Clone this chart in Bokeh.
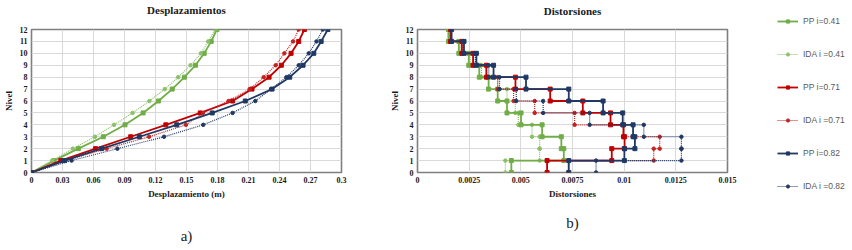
from bokeh.plotting import figure
from bokeh.layouts import row
from bokeh.models import Range1d, FixedTicker, Legend, LegendItem, LinearAxis
from bokeh.embed import file_html
from bokeh.resources import INLINE

# ---------------- data ----------------
levels = [0, 1, 2, 3, 4, 5, 6, 7, 8, 9, 10, 11, 12]

# Displacements (m) per level
disp_pp_041 = [0, 0.0217, 0.0453, 0.0695, 0.0905, 0.1080, 0.1228, 0.1362, 0.1480, 0.1587, 0.1671, 0.1739, 0.1794]
disp_ida_041 = [0, 0.0200, 0.0400, 0.0614, 0.0799, 0.0978, 0.1141, 0.1290, 0.1420, 0.1539, 0.1639, 0.1710, 0.1778]
disp_pp_071 = [0, 0.0284, 0.0620, 0.0960, 0.1300, 0.1633, 0.1946, 0.2134, 0.2299, 0.2418, 0.2512, 0.2586, 0.2641]
disp_ida_071 = [0, 0.0330, 0.0727, 0.1138, 0.1494, 0.1660, 0.1907, 0.2111, 0.2247, 0.2363, 0.2447, 0.2531, 0.2586]
disp_pp_082 = [0, 0.0320, 0.0679, 0.1044, 0.1406, 0.1749, 0.2069, 0.2328, 0.2499, 0.2628, 0.2732, 0.2803, 0.2868]
disp_ida_082 = [0, 0.0388, 0.0831, 0.1283, 0.1662, 0.1946, 0.2166, 0.2318, 0.2467, 0.2586, 0.2683, 0.2758, 0.2819]

# Story drifts (storey 1..12)
drift_pp_041 = [0.00454, 0.00708, 0.00696, 0.00603, 0.00501, 0.00433, 0.00388, 0.00344, 0.00299, 0.00248, 0.00200, 0.00150]
drift_ida_041 = [0.00425, 0.00591, 0.00591, 0.00554, 0.00488, 0.00473, 0.00433, 0.00388, 0.00310, 0.00255, 0.00205, 0.00148]
drift_pp_071 = [0.00627, 0.00940, 0.01002, 0.00997, 0.00934, 0.00800, 0.00642, 0.00474, 0.00333, 0.00269, 0.00215, 0.00160]
drift_ida_071 = [0.00730, 0.01143, 0.01172, 0.00995, 0.00760, 0.00567, 0.00465, 0.00388, 0.00335, 0.00270, 0.00212, 0.00158]
drift_pp_082 = [0.00732, 0.01001, 0.01052, 0.01043, 0.00993, 0.00898, 0.00732, 0.00525, 0.00368, 0.00285, 0.00225, 0.00165]
drift_ida_082 = [0.00864, 0.01277, 0.01277, 0.01095, 0.00833, 0.00608, 0.00478, 0.00397, 0.00345, 0.00280, 0.00222, 0.00163]

series_names = ["PP i=0.41", "IDA i =0.41", "PP i=0.71", "IDA i =0.71", "PP i=0.82", "IDA i =0.82"]
series_colors = ["#70ad47", "#8cc068", "#c00000", "#c42020", "#1f3864", "#1f3864"]

disp_ticks = [0, 0.03, 0.06, 0.09, 0.12, 0.15, 0.18, 0.21, 0.24, 0.27, 0.3]
disp_labels = ["0", "0.03", "0.06", "0.09", "0.12", "0.15", "0.18", "0.21", "0.24", "0.27", "0.3"]
drift_ticks = [0, 0.0025, 0.005, 0.0075, 0.01, 0.0125, 0.015]
drift_labels = ["0", "0.0025", "0.005", "0.0075", "0.01", "0.0125", "0.015"]

SERIF = "Liberation Serif"
SANS = "Liberation Sans"
TXT = "#1a1a1a"


def label_axis(text, size, style_, standoff):
    ax = LinearAxis(ticker=FixedTicker(ticks=[]), axis_label=text)
    ax.axis_line_color = None
    ax.major_tick_line_color = None
    ax.minor_tick_line_color = None
    ax.major_tick_out = 0
    ax.major_tick_in = 0
    ax.major_label_standoff = 0
    ax.major_label_text_font_size = "0px"
    ax.axis_label_text_font = SERIF
    ax.axis_label_text_font_size = size
    ax.axis_label_text_font_style = style_
    ax.axis_label_text_color = TXT
    ax.axis_label_standoff = standoff
    return ax


def style(p, xticks, xlabels, xlabel, title, title_standoff, sub, sub_standoff):
    p.outline_line_color = "#7f7f7f"
    p.outline_line_width = 1.6
    p.background_fill_color = "white"
    p.border_fill_color = "white"
    p.xaxis.ticker = FixedTicker(ticks=xticks)
    p.xaxis.major_label_overrides = {t: l for t, l in zip(xticks, xlabels)}
    p.yaxis.ticker = FixedTicker(ticks=levels)
    for ax in (p.xaxis[0], p.yaxis[0]):
        ax.axis_line_color = None
        ax.major_tick_line_color = None
        ax.minor_tick_line_color = None
        ax.major_tick_out = 0
        ax.major_tick_in = 0
        ax.major_label_text_font = SERIF
        ax.major_label_text_font_style = "bold"
        ax.major_label_text_font_size = "8px"
        ax.major_label_text_color = TXT
        ax.major_label_standoff = 4
        ax.axis_label_text_font = SERIF
        ax.axis_label_text_font_style = "bold"
        ax.axis_label_text_font_size = "9px"
        ax.axis_label_text_color = TXT
        ax.axis_label_standoff = 3
    p.xaxis[0].axis_label = xlabel
    p.yaxis[0].axis_label = "Nivel"
    p.xgrid.grid_line_color = "#d9d9d9"
    p.ygrid.grid_line_color = "#d9d9d9"
    p.xgrid.ticker = FixedTicker(ticks=xticks)
    p.ygrid.ticker = FixedTicker(ticks=levels)
    p.add_layout(label_axis(title, "11px", "bold", title_standoff), "above")
    p.add_layout(label_axis(sub, "15px", "normal", sub_standoff), "below")


def draw(p, xs, ys, i):
    c = series_colors[i]
    if i % 2 == 0:
        r1 = p.line(xs, ys, line_color=c, line_width=1.8)
        r2 = p.scatter(xs, ys, marker="square", size=4, fill_color=c, line_color=c)
    else:
        r1 = p.line(xs, ys, line_color=c, line_width=1.2, line_dash="1 1")
        r2 = p.scatter(xs, ys, marker="circle", size=3.5, fill_color=c, line_color=c)
    return [r1, r2]


# ---------------- left: Desplazamientos ----------------
p1 = figure(width=378, height=250, output_backend="svg", toolbar_location=None,
            x_range=Range1d(0, 0.3), y_range=Range1d(0, 12),
            min_border_left=31, min_border_right=37, min_border_top=29, min_border_bottom=77)
style(p1, disp_ticks, disp_labels, "Desplazamiento (m)", "Desplazamientos", 14, "a)", 26)

disp_series = [disp_pp_041, disp_ida_041, disp_pp_071, disp_ida_071, disp_pp_082, disp_ida_082]
for i, vals in enumerate(disp_series):
    draw(p1, vals, levels, i)

# ---------------- right: Distorsiones ----------------
p2 = figure(width=361, height=250, output_backend="svg", toolbar_location=None,
            x_range=Range1d(0, 0.015), y_range=Range1d(0, 12),
            min_border_left=39, min_border_right=12, min_border_top=28, min_border_bottom=78)
style(p2, drift_ticks, drift_labels, "Distorsiones", "Distorsiones", 13, "b)", 13)


def step(drifts):
    xs, ys = [], []
    for k, d in enumerate(drifts):
        xs += [d, d]
        ys += [levels[k], levels[k + 1]]
    return xs, ys


drift_series = [drift_pp_041, drift_ida_041, drift_pp_071, drift_ida_071, drift_pp_082, drift_ida_082]
for i in [1, 0, 3, 2, 5, 4]:
    xs, ys = step(drift_series[i])
    draw(p2, xs, ys, i)

# ---------------- legend panel ----------------
p3 = figure(width=113, height=250, output_backend="svg", toolbar_location=None,
            x_range=Range1d(0, 1), y_range=Range1d(0, 1),
            min_border_left=0, min_border_right=0, min_border_top=0, min_border_bottom=0)
p3.frame_align = False
p3.axis.visible = False
p3.grid.visible = False
p3.outline_line_color = None
p3.border_fill_color = "white"

items = []
for i in range(6):
    rs = draw(p3, [5, 6], [5, 6], i)
    items.append(LegendItem(label=series_names[i], renderers=rs))

legend = Legend(items=items, location=(38, 57), padding=0, margin=0, spacing=19,
                glyph_width=21, glyph_height=8, label_height=14, label_standoff=5,
                label_text_font=SANS, label_text_font_size="8.5px", label_text_color="#595959",
                border_line_color=None, background_fill_alpha=0)
p3.add_layout(legend)

layout = row(p1, p2, p3)
open("out.html", "w").write(file_html(layout, INLINE))
